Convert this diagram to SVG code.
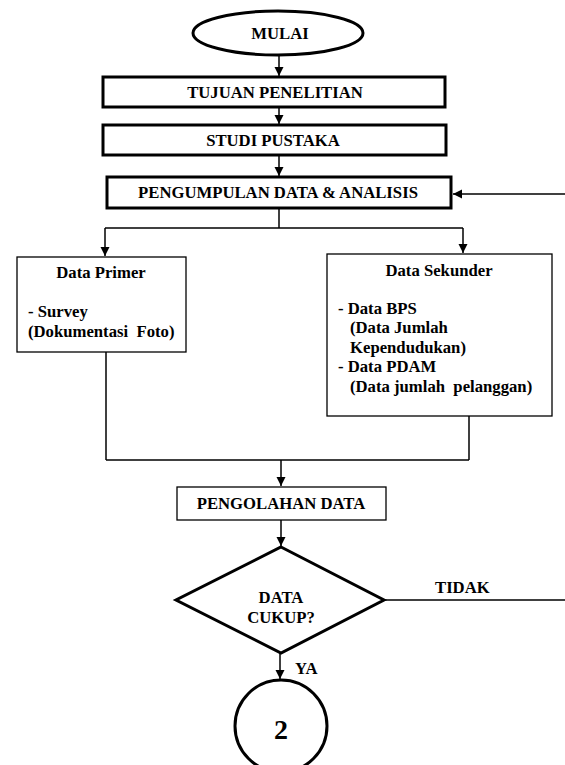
<svg xmlns="http://www.w3.org/2000/svg" width="565" height="765" viewBox="0 0 565 765">
<defs>
<marker id="ah" markerWidth="10" markerHeight="10" refX="9" refY="5" orient="auto" markerUnits="userSpaceOnUse">
<path d="M0,0.5 L9,5 L0,9.5 Z" fill="#000"/>
</marker>
<style>
.t{font-family:"Liberation Serif","Times New Roman",serif;font-weight:bold;font-size:16.7px;fill:#000}
.c{text-anchor:middle}
.thick{fill:#fff;stroke:#000;stroke-width:3}
.thin{fill:#fff;stroke:#000;stroke-width:1.3}
.ln{fill:none;stroke:#000;stroke-width:1.5}
.ar{fill:none;stroke:#000;stroke-width:1.5;marker-end:url(#ah)}
</style>
</defs>
<rect width="565" height="765" fill="#fff"/>
<g id="connectors">
<line class="ar" x1="279" y1="55" x2="279" y2="76"/>
<line class="ar" x1="279" y1="107" x2="279" y2="124"/>
<line class="ar" x1="279" y1="155" x2="279" y2="176"/>
<line class="ar" x1="565" y1="194" x2="453" y2="194"/>
<polyline class="ln" points="279,209 279,228"/>
<line class="ln" x1="105" y1="228" x2="463" y2="228"/>
<line class="ar" x1="105" y1="228" x2="105" y2="256"/>
<line class="ar" x1="463" y1="228" x2="463" y2="253"/>
<line class="ln" x1="106" y1="352" x2="106" y2="460"/>
<line class="ln" x1="469" y1="416" x2="469" y2="460"/>
<line class="ln" x1="106" y1="460" x2="469" y2="460"/>
<line class="ar" x1="281" y1="460" x2="281" y2="486"/>
<line class="ar" x1="281" y1="520" x2="281" y2="546"/>
<line class="ln" x1="384" y1="600" x2="565" y2="600"/>
<line class="ar" x1="280" y1="653" x2="280" y2="679"/>
<text class="t" x="435" y="593">TIDAK</text>
<text class="t" x="295" y="674">YA</text>
</g>
<g id="mulai">
<ellipse class="thick" cx="278" cy="33" rx="85" ry="22"/>
<text class="t c" x="280" y="39">MULAI</text>
</g>
<g id="tujuan">
<rect class="thick" x="103" y="77" width="342" height="30"/>
<text class="t c" x="275" y="98">TUJUAN PENELITIAN</text>
</g>
<g id="studi">
<rect class="thick" x="103" y="125" width="343" height="30"/>
<text class="t c" x="273" y="146">STUDI PUSTAKA</text>
</g>
<g id="pengumpulan">
<rect class="thick" x="107" y="177" width="344" height="31"/>
<text class="t c" x="278" y="198">PENGUMPULAN DATA &amp; ANALISIS</text>
</g>
<g id="primer">
<rect class="thin" x="17" y="257" width="169" height="95"/>
<text class="t c" x="101" y="278">Data Primer</text>
<text class="t" x="28" y="317">- Survey</text>
<text class="t" x="28" y="337" xml:space="preserve">(Dokumentasi  Foto)</text>
</g>
<g id="sekunder">
<rect class="thin" x="327" y="254" width="225" height="162"/>
<text class="t c" x="439" y="276">Data Sekunder</text>
<text class="t" x="338" y="314">- Data BPS</text>
<text class="t" x="350" y="333">(Data Jumlah</text>
<text class="t" x="350" y="353">Kependudukan)</text>
<text class="t" x="338" y="372">- Data PDAM</text>
<text class="t" x="350" y="392" xml:space="preserve">(Data jumlah  pelanggan)</text>
</g>
<g id="pengolahan">
<rect class="thin" x="177" y="487" width="209" height="33"/>
<text class="t c" x="281" y="509">PENGOLAHAN DATA</text>
</g>
<g id="keputusan">
<polygon class="thick" points="281,547 384,600 281,653 176,600"/>
<text class="t c" x="281" y="603">DATA</text>
<text class="t c" x="281" y="623">CUKUP?</text>
</g>
<g id="konektor2">
<circle class="thick" cx="281" cy="726" r="46"/>
<text class="t c" x="281" y="739" style="font-size:28px">2</text>
</g>
</svg>
